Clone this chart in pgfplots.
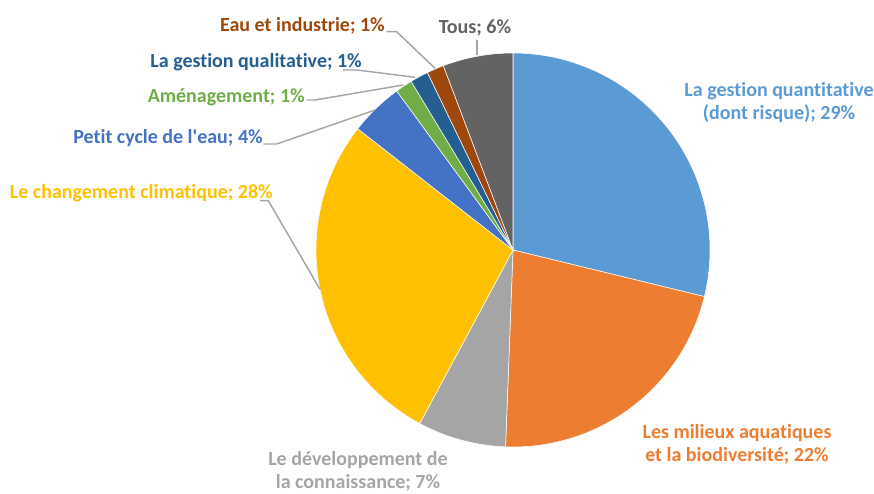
\documentclass[border=0pt]{standalone}
\usepackage{pgfplots}
\pgfplotsset{compat=1.18}
\usepackage{fontspec}
\setmainfont{Carlito}
\newfontfamily\lab{Carlito}[Ligatures=NoCommon]
\definecolor{cA}{HTML}{5B9BD5}
\definecolor{cB}{HTML}{ED7D31}
\definecolor{cC}{HTML}{A5A5A5}
\definecolor{cD}{HTML}{FFC000}
\definecolor{cE}{HTML}{4472C4}
\definecolor{cF}{HTML}{70AD47}
\definecolor{cG}{HTML}{255E91}
\definecolor{cH}{HTML}{9E480E}
\definecolor{cI}{HTML}{636363}
\definecolor{lead}{HTML}{A5A5A5}
% slice values (percent), clockwise from 12 o'clock
\def\vA{28.8}  % La gestion quantitative
\def\vB{21.8}  % Les milieux aquatiques
\def\vC{7.25}  % Le developpement de la connaissance
\def\vD{27.7}  % Le changement climatique
\def\vE{4.4}   % Petit cycle de l'eau
\def\vF{1.4}   % Amenagement
\def\vG{1.5}   % La gestion qualitative
\def\vH{1.4}   % Eau et industrie
\def\vI{5.75}  % Tous
\begin{document}
\begin{tikzpicture}
\pgfmathsetmacro\aA{90}
\pgfmathsetmacro\aB{\aA-3.6*\vA}
\pgfmathsetmacro\aC{\aB-3.6*\vB}
\pgfmathsetmacro\aD{\aC-3.6*\vC}
\pgfmathsetmacro\aE{\aD-3.6*\vD}
\pgfmathsetmacro\aF{\aE-3.6*\vE}
\pgfmathsetmacro\aG{\aF-3.6*\vF}
\pgfmathsetmacro\aH{\aG-3.6*\vG}
\pgfmathsetmacro\aI{\aH-3.6*\vH}
\pgfmathsetmacro\aJ{\aI-3.6*\vI}
\begin{axis}[hide axis, scale only axis, width=655.5pt, height=369.75pt,
  xmin=0, xmax=874, ymin=0, ymax=493, clip=false,
  every axis plot/.append style={draw=white, line width=0.4pt, samples=80, variable=\t}]
\addplot[fill=cA, domain=\aB:\aA] ({513+197*cos(\t)},{243+197*sin(\t)}) -- (axis cs:513,243) -- cycle;
\addplot[fill=cB, domain=\aC:\aB] ({513+197*cos(\t)},{243+197*sin(\t)}) -- (axis cs:513,243) -- cycle;
\addplot[fill=cC, domain=\aD:\aC] ({513+197*cos(\t)},{243+197*sin(\t)}) -- (axis cs:513,243) -- cycle;
\addplot[fill=cD, domain=\aE:\aD] ({513+197*cos(\t)},{243+197*sin(\t)}) -- (axis cs:513,243) -- cycle;
\addplot[fill=cE, domain=\aF:\aE] ({513+197*cos(\t)},{243+197*sin(\t)}) -- (axis cs:513,243) -- cycle;
\addplot[fill=cF, domain=\aG:\aF] ({513+197*cos(\t)},{243+197*sin(\t)}) -- (axis cs:513,243) -- cycle;
\addplot[fill=cG, domain=\aH:\aG] ({513+197*cos(\t)},{243+197*sin(\t)}) -- (axis cs:513,243) -- cycle;
\addplot[fill=cH, domain=\aI:\aH] ({513+197*cos(\t)},{243+197*sin(\t)}) -- (axis cs:513,243) -- cycle;
\addplot[fill=cI, domain=\aJ:\aI] ({513+197*cos(\t)},{243+197*sin(\t)}) -- (axis cs:513,243) -- cycle;
% leader lines
\draw[lead, line width=1.1pt] (axis cs:386.7,461.3) -- (axis cs:396.7,461.3) -- (axis cs:435,424.7);
\draw[lead, line width=1.1pt] (axis cs:477,453) -- (axis cs:477,438);
\draw[lead, line width=1.1pt] (axis cs:343,423) -- (axis cs:356.7,423) -- (axis cs:415,415.7);
\draw[lead, line width=1.1pt] (axis cs:306.7,393) -- (axis cs:315,393) -- (axis cs:403.3,408);
\draw[lead, line width=1.1pt] (axis cs:263.3,349) -- (axis cs:276.7,349) -- (axis cs:375,383);
\draw[lead, line width=1.1pt] (axis cs:260,292.3) -- (axis cs:268.3,292.3) -- (axis cs:320,203.7);
% labels
\begin{scope}[every node/.style={font=\lab\fontsize{15}{17.3}\selectfont\bfseries, inner sep=0pt, align=center}]
\node[text=cA] at (axis cs:779,390) {La gestion quantitative\\(dont risque); 29\%};
\node[text=cB] at (axis cs:737,49) {Les milieux aquatiques\\et la biodiversité; 22\%};
\node[text=cC] at (axis cs:358,22) {Le développement de\\la connaissance; 7\%};
\node[text=cD, anchor=east] at (axis cs:273,300) {Le changement climatique; 28\%};
\node[text=cE, anchor=east] at (axis cs:263,355) {Petit cycle de l'eau; 4\%};
\node[text=cF, anchor=east] at (axis cs:305,396) {Aménagement; 1\%};
\node[text=cG, anchor=east] at (axis cs:362,431) {La gestion qualitative; 1\%};
\node[text=cH, anchor=east] at (axis cs:385,467) {Eau et industrie; 1\%};
\node[text=cI] at (axis cs:475,465) {Tous; 6\%};
\end{scope}
\end{axis}
\pgfresetboundingbox
\path (current axis.south west) rectangle (current axis.north east);
\end{tikzpicture}
\end{document}
